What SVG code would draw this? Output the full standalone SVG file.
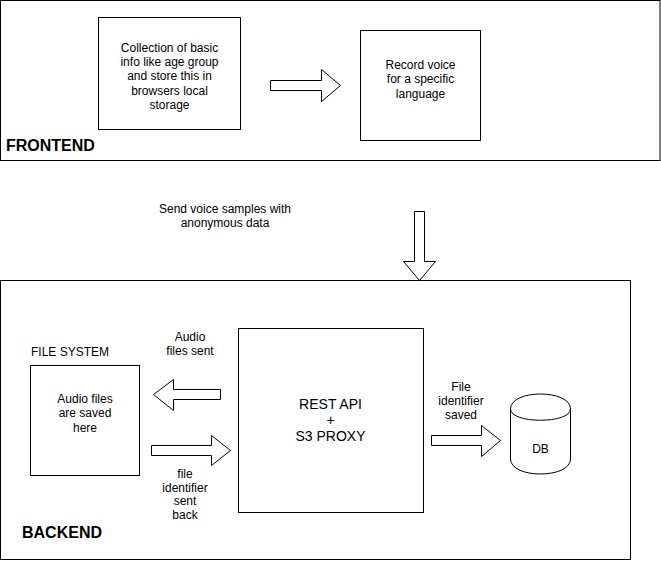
<svg xmlns="http://www.w3.org/2000/svg" width="661" height="561" viewBox="0 0 661 561">
  <style>
    .box { fill: #ffffff; stroke: #000000; stroke-width: 1; }
    .arrow { fill: #ffffff; stroke: #000000; stroke-width: 1; stroke-linejoin: miter; }
    .t { font-family: "Liberation Sans", Arial, Helvetica, sans-serif; font-size: 12px; fill: #000000; text-anchor: middle; }
    .big { font-family: "Liberation Sans", Arial, Helvetica, sans-serif; font-size: 14px; fill: #000000; text-anchor: middle; }
    .title { font-family: "Liberation Sans", Arial, Helvetica, sans-serif; font-size: 16px; font-weight: bold; fill: #000000; text-anchor: start; }
  </style>
  <rect x="0" y="0" width="661" height="561" fill="#ffffff"/>

  <g id="frontend">
    <rect class="box" x="0.5" y="0.5" width="659.5" height="160"/>
    <text class="title" x="6" y="151">FRONTEND</text>
  </g>

  <g id="backend">
    <rect class="box" x="0.5" y="280.5" width="630" height="279"/>
    <text class="title" x="22" y="538">BACKEND</text>
  </g>

  <g id="collect-info">
    <rect class="box" x="98.5" y="17.5" width="142" height="112"/>
    <text class="t" x="169.5" y="51.5">Collection of basic</text>
    <text class="t" x="169.5" y="65.9">info like age group</text>
    <text class="t" x="169.5" y="80.3">and store this in</text>
    <text class="t" x="169.5" y="94.7">browsers local</text>
    <text class="t" x="169.5" y="109.1">storage</text>
  </g>

  <g id="record-voice">
    <rect class="box" x="360.5" y="30.5" width="120" height="110"/>
    <text class="t" x="420.5" y="69">Record voice</text>
    <text class="t" x="420.5" y="83.4">for a specific</text>
    <text class="t" x="420.5" y="97.8">language</text>
  </g>

  <g id="send-label">
    <text class="t" x="225" y="213">Send voice samples with</text>
    <text class="t" x="225" y="227.4">anonymous data</text>
  </g>

  <g id="rest-api">
    <rect class="box" x="238.5" y="328.5" width="185" height="184"/>
    <text class="big" x="330.5" y="409">REST API</text>
    <text class="big" x="330.5" y="425">+</text>
    <text class="big" x="330.5" y="441">S3 PROXY</text>
  </g>

  <g id="file-system">
    <text class="t" x="70" y="356">FILE SYSTEM</text>
    <rect class="box" x="30.5" y="365.5" width="109" height="110"/>
    <text class="t" x="85" y="403">Audio files</text>
    <text class="t" x="85" y="417.4">are saved</text>
    <text class="t" x="85" y="431.8">here</text>
  </g>

  <g id="db">
    <path class="box" d="M510.5,409 C510.5,389 570.5,389 570.5,409 L570.5,459 C570.5,479 510.5,479 510.5,459 Z"/>
    <path class="box" fill="none" d="M510.5,409 C510.5,424 570.5,424 570.5,409"/>
    <text class="t" x="540.5" y="453">DB</text>
  </g>

  <g id="labels">
    <text class="t" x="190" y="341">Audio</text>
    <text class="t" x="190" y="355.4">files sent</text>
    <text class="t" x="185" y="478">file</text>
    <text class="t" x="185" y="491.5">identifier</text>
    <text class="t" x="185" y="505">sent</text>
    <text class="t" x="185" y="518.5">back</text>
    <text class="t" x="461" y="391">File</text>
    <text class="t" x="461" y="405">identifier</text>
    <text class="t" x="461" y="419">saved</text>
  </g>

  <g id="connectors">
    <polygon class="arrow" points="270.5,80.5 321.5,80.5 321.5,69.5 340.5,85.5 321.5,101.5 321.5,90.5 270.5,90.5"/>
    <polygon class="arrow" points="414.5,211.5 424.5,211.5 424.5,261.5 435.5,261.5 419.5,280.5 403.5,261.5 414.5,261.5"/>
    <polygon class="arrow" points="220.5,389.5 173.5,389.5 173.5,379.5 153.5,394.5 173.5,410.5 173.5,399.5 220.5,399.5"/>
    <polygon class="arrow" points="151.5,445.5 211.5,445.5 211.5,435.5 230.5,450.5 211.5,465.5 211.5,455.5 151.5,455.5"/>
    <polygon class="arrow" points="431.5,435.5 481.5,435.5 481.5,425.5 500.5,440.5 481.5,456.5 481.5,445.5 431.5,445.5"/>
  </g>
</svg>
